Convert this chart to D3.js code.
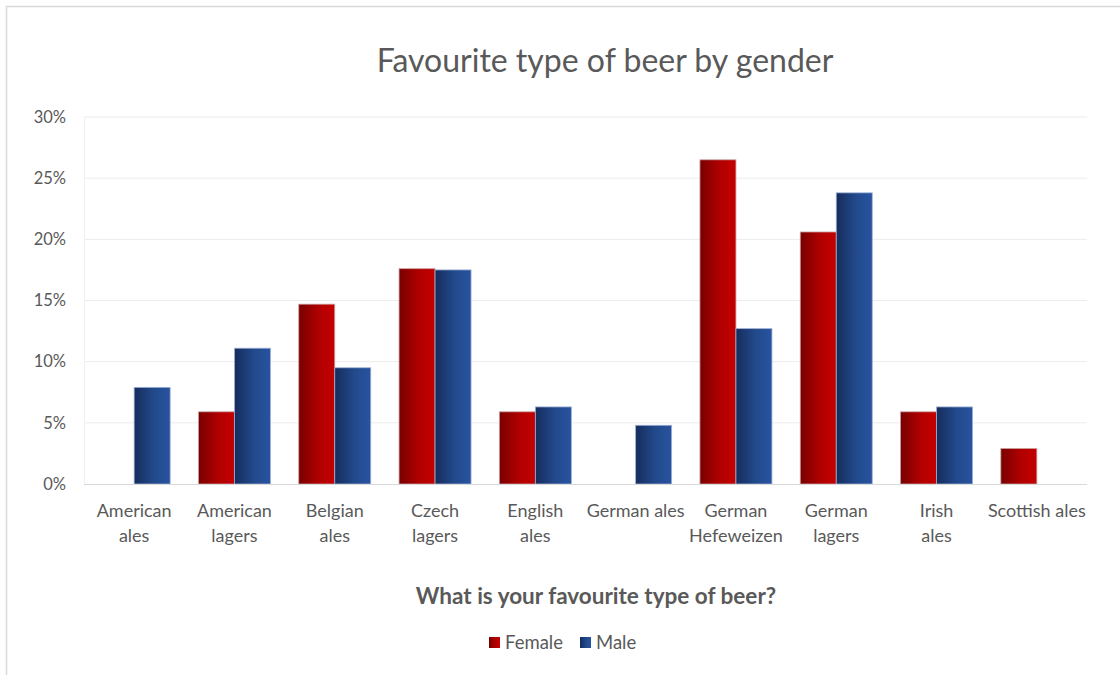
<!DOCTYPE html>
<html>
<head>
<meta charset="utf-8">
<script src="https://cdn.jsdelivr.net/npm/d3@7/dist/d3.min.js"></script>
<style>
  html, body { margin: 0; padding: 0; background: #fff; }
  svg { display: block; }
  text { font-family: Lato, "Open Sans", "Liberation Sans", sans-serif; fill: #595959; }
</style>
</head>
<body>
<svg id="chart" width="1120" height="675"></svg>
<script>
// Survey answers: share of each gender choosing a beer type
const categories = [
  "American\nales", "American\nlagers", "Belgian\nales", "Czech\nlagers", "English\nales",
  "German ales", "German\nHefeweizen", "German\nlagers", "Irish\nales", "Scottish ales"
];
const female = [0, 5.9, 14.7, 17.6, 5.9, 0, 26.5, 20.6, 5.9, 2.9];
const male   = [7.9, 11.1, 9.5, 17.5, 6.3, 4.8, 12.7, 23.8, 6.3, 0];
const seriesNames = ["Female", "Male"];
const yTicks = [0, 5, 10, 15, 20, 25, 30];

const title = "Favourite type of beer by gender";
const xTitle = "What is your favourite type of beer?";

const svg = d3.select("#chart");
const W = 1120, H = 675;
const plot = { left: 84, right: 1087, top: 117, bottom: 484 };

// Outer chart frame
svg.append("rect")
  .attr("x", 6.5).attr("y", 6.5)
  .attr("width", W + 20).attr("height", H + 20)
  .attr("fill", "#fff").attr("stroke", "#d9d9d9").attr("stroke-width", 1.5);

// Gradients for the bar fills (dark on the left, bright on the right)
const defs = svg.append("defs");
const gradSpec = [
  { id: "gFemale", stops: [["0%", "#780000"], ["55%", "#b00000"], ["100%", "#c50000"]] },
  { id: "gMale",   stops: [["0%", "#162c5c"], ["55%", "#224a8c"], ["100%", "#2853a0"]] }
];
gradSpec.forEach(g => {
  const lg = defs.append("linearGradient").attr("id", g.id)
    .attr("x1", "0%").attr("x2", "100%").attr("y1", "0%").attr("y2", "0%");
  g.stops.forEach(s => lg.append("stop").attr("offset", s[0]).attr("stop-color", s[1]));
});
const fills = ["url(#gFemale)", "url(#gMale)"];
const edges = ["#c9a0a0", "#9fb1d4"];

const x0 = d3.scaleBand().domain(categories).range([plot.left, plot.right]).paddingInner(0).paddingOuter(0);
const x1 = d3.scaleBand().domain(seriesNames).range([0, 72]);
const y = d3.scaleLinear().domain([0, 30]).range([plot.bottom, plot.top]);

// Gridlines
svg.append("g").selectAll("line").data(yTicks.filter(t => t > 0)).join("line")
  .attr("x1", plot.left).attr("x2", plot.right)
  .attr("y1", d => y(d)).attr("y2", d => y(d))
  .attr("stroke", "#ececec").attr("stroke-width", 1);

// Plot area left edge
svg.append("line")
  .attr("x1", plot.left + 0.5).attr("x2", plot.left + 0.5)
  .attr("y1", plot.top).attr("y2", plot.bottom)
  .attr("stroke", "#f0f0f0");

// Y axis labels
const yAxis = d3.axisLeft(y).tickValues(yTicks).tickFormat(d => d + "%").tickSize(0).tickPadding(18);
const yg = svg.append("g").attr("transform", `translate(${plot.left},0)`).call(yAxis);
yg.select(".domain").remove();
yg.selectAll("text").style("font-size", "16.5px").attr("fill", "#595959")
  .style("font-family", "Lato, 'Open Sans', sans-serif");

// Bars
const rows = categories.map((c, i) => ({ c, vals: [female[i], male[i]] }));
const groups = svg.append("g").selectAll("g").data(rows).join("g")
  .attr("transform", d => `translate(${x0(d.c) + (x0.bandwidth() - 72) / 2},0)`);
groups.selectAll("rect").data(d => d.vals.map((v, k) => ({ v, k })).filter(e => e.v > 0)).join("rect")
  .attr("x", e => x1(seriesNames[e.k]))
  .attr("width", x1.bandwidth())
  .attr("y", e => y(e.v))
  .attr("height", e => y(0) - y(e.v))
  .attr("fill", e => fills[e.k])
  .attr("stroke", e => edges[e.k]).attr("stroke-width", 0.8);

// Baseline
svg.append("line")
  .attr("x1", plot.left).attr("x2", plot.right)
  .attr("y1", plot.bottom + 0.5).attr("y2", plot.bottom + 0.5)
  .attr("stroke", "#d9d9d9").attr("stroke-width", 1.2);

// Category labels
const xg = svg.append("g");
categories.forEach(c => {
  const t = xg.append("text")
    .attr("x", x0(c) + x0.bandwidth() / 2)
    .attr("y", 517)
    .attr("text-anchor", "middle")
    .style("font-size", "18px");
  c.split("\n").forEach((line, i) => {
    t.append("tspan").attr("x", x0(c) + x0.bandwidth() / 2).attr("dy", i === 0 ? 0 : 25).text(line);
  });
});

// Titles
svg.append("text").attr("x", 605).attr("y", 72).attr("text-anchor", "middle")
  .style("font-size", "32px").text(title);
svg.append("text").attr("x", 596).attr("y", 604).attr("text-anchor", "middle")
  .style("font-size", "22.5px").style("font-weight", "bold").text(xTitle);

// Legend
const legend = svg.append("g");
const legendItems = [{ name: seriesNames[0], fill: fills[0], x: 489 }, { name: seriesNames[1], fill: fills[1], x: 580 }];
legendItems.forEach(it => {
  legend.append("rect").attr("x", it.x).attr("y", 637).attr("width", 11).attr("height", 11).attr("fill", it.fill);
  legend.append("text").attr("x", it.x + 16).attr("y", 649).style("font-size", "18.5px").text(it.name);
});
</script>
</body>
</html>
